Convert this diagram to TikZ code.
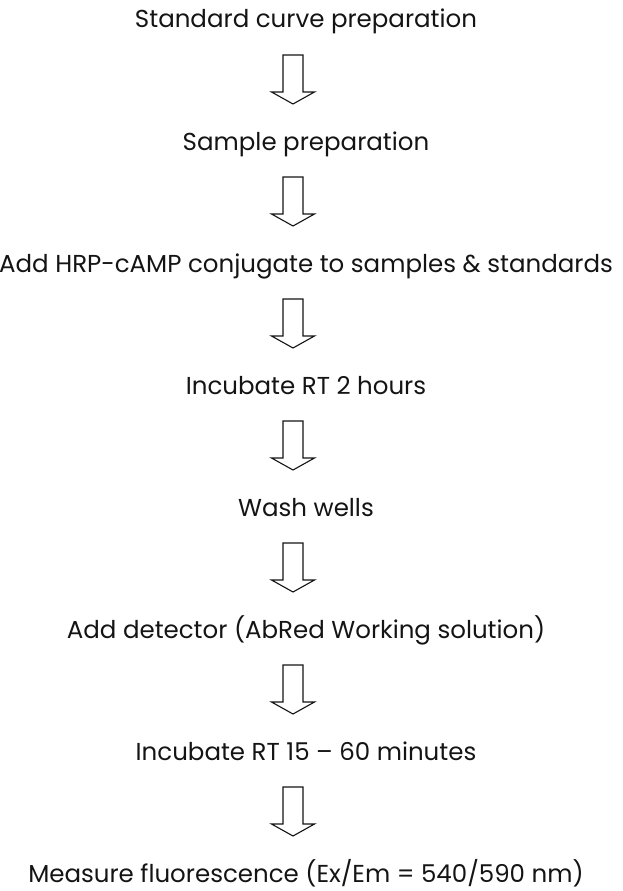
\documentclass[tikz,border=0pt]{standalone}
\usepackage{fontspec}
\setmainfont{Poppins}
\usepackage{xcolor}
\definecolor{pasoink}{RGB}{20, 20, 20}
\usetikzlibrary{calc}

\begin{document}
\begin{tikzpicture}[
    x=1pt, y=1pt,
    paso/.style={anchor=base, inner sep=0pt, text=pasoink, font=\fontsize{24.5}{28}\selectfont},
    blockarrow/.style={draw=pasoink, line width=1.1pt, line join=miter, fill=white}
]

% Marco de la figura
\useasboundingbox (0,0) rectangle (623,-891);

% Pasos del protocolo
\node[paso] (s1) at (306, -28)  {Standard curve preparation};
\node[paso] (s2) at (306, -150) {Sample preparation};
\node[paso] (s3) at (306, -272) {Add HRP-cAMP conjugate to samples \& standards};
\node[paso] (s4) at (306, -394) {Incubate RT 2 hours};
\node[paso] (s5) at (306, -516) {Wash wells};
\node[paso] (s6) at (306, -638) {Add detector (AbRed Working solution)};
\node[paso] (s7) at (306, -760) {Incubate RT 15 -- 60 minutes};
\node[paso] (s8) at (306, -882) {Measure fluorescence (Ex/Em = 540/590 nm)};

% Flechas huecas entre pasos
\foreach \i/\j in {1/2, 2/3, 3/4, 4/5, 5/6, 6/7, 7/8} {
    \draw[blockarrow] ($(s\i.base)+(-23,-27)$) -- ++(0,-37) -- ++(-11.5,0)
        -- ($(s\j.base)+(-13,46)$) -- ($(s\i.base)+(8.5,-64)$) -- ++(-11.5,0)
        -- ++(0,37) -- cycle;
}

\end{tikzpicture}
\end{document}
